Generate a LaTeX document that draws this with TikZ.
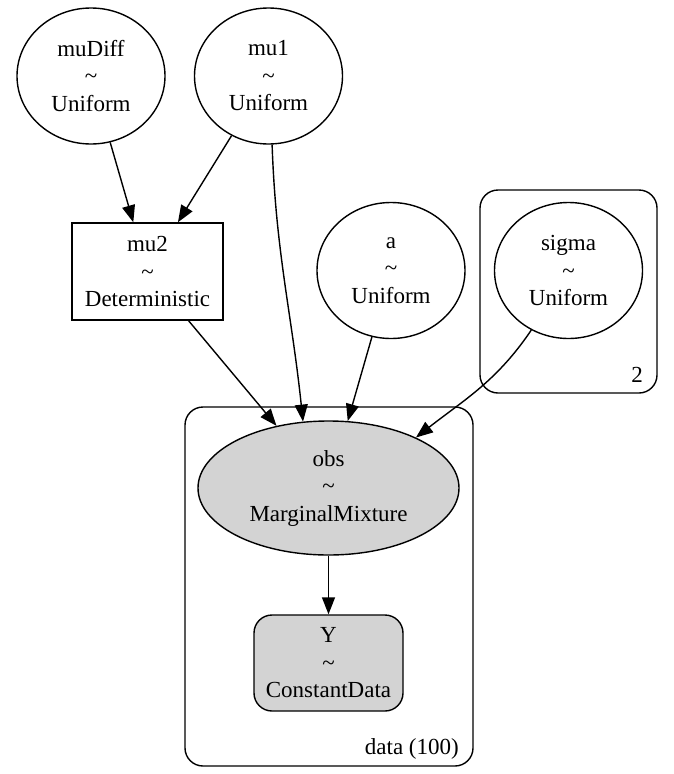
\documentclass[tikz,border=0pt]{standalone}
\usepackage{fontspec}
\setmainfont{Liberation Serif}
\usepackage{xcolor}
\usepackage{tikz}
\usetikzlibrary{shapes.geometric, arrows.meta, positioning}
\definecolor{mydark}{RGB}{0,0,0}
\definecolor{obsgray}{RGB}{211,211,211}
\tikzset{
  randvar/.style={ellipse, draw=mydark, fill=white,
    minimum width=148pt, minimum height=136pt, inner sep=0pt,
    align=center, font=\fontsize{23}{27.5}\selectfont, line width=1.4pt},
  obsvar/.style={randvar, fill=obsgray,
    minimum width=261pt, minimum height=134pt},
  detnode/.style={rectangle, draw=mydark, fill=white,
    minimum width=151pt, minimum height=97pt, inner sep=0pt,
    align=center, font=\fontsize{23}{27.5}\selectfont, line width=1.4pt},
  datanode/.style={detnode, fill=obsgray, rounded corners=18pt,
    minimum width=149pt, minimum height=96pt},
  plate/.style={rectangle, draw=mydark, rounded corners=18pt,
    inner sep=0pt, line width=1.4pt},
  platelabel/.style={anchor=base east, inner sep=0pt,
    font=\fontsize{23}{27.5}\selectfont},
  arrow/.style={-{Triangle[length=17pt, width=13pt]}, line width=1.4pt, color=mydark}
}
\newcommand{\dist}[2]{#1\\\textasciitilde\\#2}

\begin{document}
\begin{tikzpicture}[x=1pt, y=-1pt]
  \useasboundingbox (0,0) rectangle (673,774);

  % Plates
  \node[plate, minimum width=177pt, minimum height=203pt] (sigmaplate) at (568.5,291.5) {};
  \node[platelabel] (sigmalabel) at (643,382) {2};
  \node[plate, minimum width=288pt, minimum height=359pt] (dataplate) at (329,586.5) {};
  \node[platelabel] (datalabel) at (459,754) {data (100)};

  % Free variables
  \node[randvar] (muDiff) at (91,76) {\dist{muDiff}{Uniform}};
  \node[randvar] (mu1) at (268.5,76) {\dist{mu1}{Uniform}};
  \node[detnode] (mu2) at (147.5,271.5) {\dist{mu2}{Deterministic}};
  \node[randvar] (a) at (391,270.5) {\dist{a}{Uniform}};
  \node[randvar] (sigma) at (568.5,270.5) {\dist{sigma}{Uniform}};

  % Observed
  \node[obsvar] (obs) at (328.5,488) {\dist{obs}{MarginalMixture}};
  \node[datanode] (Y) at (328.5,663) {\dist{Y}{ConstantData}};

  % Edges
  \draw[arrow] (muDiff) -- (mu2);
  \draw[arrow] (mu1) -- (mu2);
  \draw[arrow] (mu2) -- (obs);
  \draw[arrow] (mu1.-87) to[out=-88, in=96] (obs.111);
  \draw[arrow] (a) -- (obs);
  \draw[arrow] (sigma.-122) to[out=-124, in=38] (obs.30);
  \draw[arrow] (obs) -- (Y);
\end{tikzpicture}
\end{document}
